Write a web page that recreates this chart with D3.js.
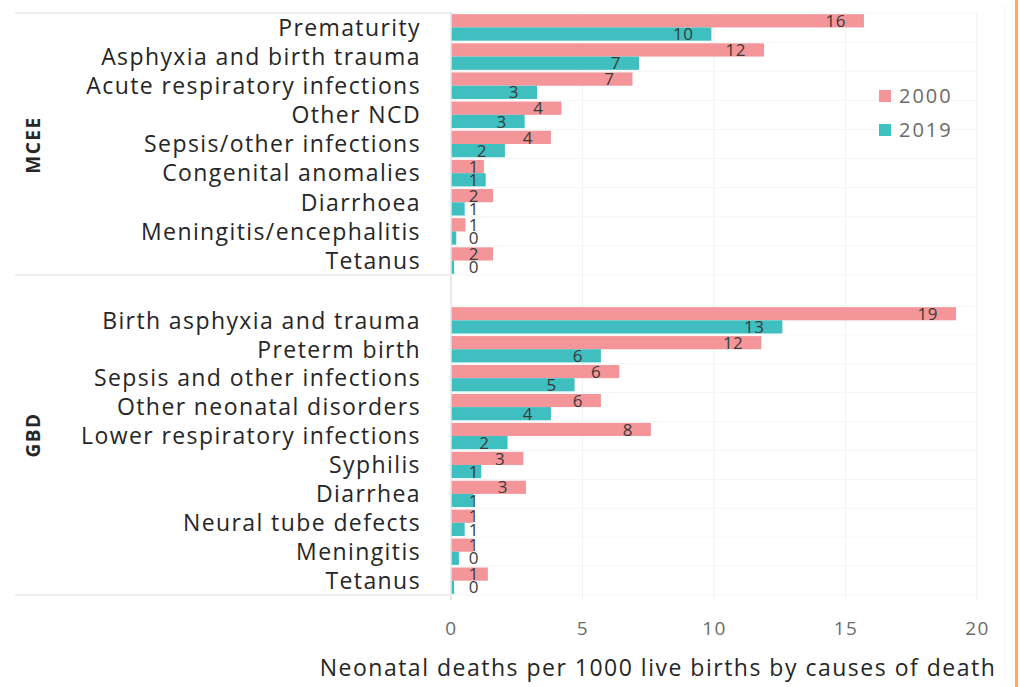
<!DOCTYPE html>
<html>
<head>
<meta charset="utf-8">
<script src="https://cdn.jsdelivr.net/npm/d3@7"></script>
<style>
  body { margin: 0; background: #fff; }
  svg { display: block; font-family: "Open Sans", sans-serif; }
</style>
</head>
<body>
<svg width="1020" height="687"></svg>
<script>
// data
var years = ["2000", "2019"];

var mceeCauses = ["Prematurity", "Asphyxia and birth trauma", "Acute respiratory infections", "Other NCD",
    "Sepsis/other infections", "Congenital anomalies", "Diarrhoea", "Meningitis/encephalitis", "Tetanus"];
var mcee2000 = [15.7, 11.9, 6.9, 4.2, 3.8, 1.25, 1.6, 0.55, 1.6];
var mcee2019 = [9.9, 7.15, 3.27, 2.8, 2.05, 1.32, 0.52, 0.2, 0.12];

var gbdCauses = ["Birth asphyxia and trauma", "Preterm birth", "Sepsis and other infections",
    "Other neonatal disorders", "Lower respiratory infections", "Syphilis", "Diarrhea",
    "Neural tube defects", "Meningitis", "Tetanus"];
var gbd2000 = [19.2, 11.8, 6.4, 5.7, 7.6, 2.75, 2.85, 0.85, 0.85, 1.4];
var gbd2019 = [12.6, 5.7, 4.7, 3.8, 2.15, 1.15, 0.85, 0.52, 0.3, 0.12];

var xTicks = [0, 5, 10, 15, 20];
var axisTitle = "Neonatal deaths per 1000 live births by causes of death";

var svg = d3.select("svg");

var x = d3.scaleLinear().domain([0, 20]).range([451, 977]);
var z = d3.scaleOrdinal().domain(years).range(["#f39599", "#3fbfbf"]);
var fmt = d3.format(".0f");

var panels = [
    { name: "MCEE", causes: mceeCauses, v2000: mcee2000, v2019: mcee2019, top: 13, bottom: 275, labelY: 145 },
    { name: "GBD", causes: gbdCauses, v2000: gbd2000, v2019: gbd2019, top: 306, bottom: 595, labelY: 435 }
];

// vertical gridlines
svg.append("g")
    .selectAll("line")
    .data(xTicks.slice(1))
    .enter().append("line")
    .attr("x1", function(d) { return x(d); })
    .attr("x2", function(d) { return x(d); })
    .attr("y1", 12)
    .attr("y2", 600)
    .attr("stroke", "#f1f3f3")
    .attr("stroke-width", 1.2);

// faint outer border on the right
svg.append("line")
    .attr("x1", 1005).attr("x2", 1005)
    .attr("y1", 5).attr("y2", 682)
    .attr("stroke", "#f4f4f4");

panels.forEach(function(p) {
    var rows = p.causes.map(function(c, i) {
        return { cause: c, values: [{ year: "2000", value: p.v2000[i] }, { year: "2019", value: p.v2019[i] }] };
    });

    var y = d3.scaleBand()
        .domain(p.causes)
        .range([p.top, p.bottom])
        .paddingInner(0.09)
        .paddingOuter(0.04);

    var y1 = d3.scaleBand().domain(years).range([0, y.bandwidth()]);

    var g = svg.append("g").attr("class", "panel");

    // horizontal gridlines between categories
    g.selectAll(".hgrid")
        .data(d3.range(p.causes.length + 1))
        .enter().append("line")
        .attr("class", "hgrid")
        .attr("x1", x(0))
        .attr("x2", x(20))
        .attr("y1", function(i) { return p.top + i * (p.bottom - p.top) / p.causes.length; })
        .attr("y2", function(i) { return p.top + i * (p.bottom - p.top) / p.causes.length; })
        .attr("stroke", "#f3f5f5");

    // panel frame lines on the label side
    g.selectAll(".frame")
        .data(p.name === "MCEE" ? [p.top, p.bottom] : [p.bottom])
        .enter().append("line")
        .attr("class", "frame")
        .attr("x1", 15)
        .attr("x2", x(0))
        .attr("y1", function(d) { return d; })
        .attr("y2", function(d) { return d; })
        .attr("stroke", "#e6e8e8")
        .attr("stroke-width", 1.5);

    var row = g.selectAll(".row")
        .data(rows)
        .enter().append("g")
        .attr("class", "row")
        .attr("transform", function(d) { return "translate(0," + y(d.cause) + ")"; });

    row.selectAll("rect")
        .data(function(d) { return d.values; })
        .enter().append("rect")
        .attr("x", x(0))
        .attr("y", function(d) { return y1(d.year); })
        .attr("width", function(d) { return x(d.value) - x(0); })
        .attr("height", y1.bandwidth())
        .attr("fill", function(d) { return z(d.year); });

    row.selectAll(".val")
        .data(function(d) { return d.values; })
        .enter().append("text")
        .attr("class", "val")
        .attr("x", function(d) { return Math.max(x(d.value) - 18, 479); })
        .attr("y", function(d) { return y1(d.year) + y1.bandwidth() / 2; })
        .attr("dy", "0.36em")
        .attr("text-anchor", "end")
        .attr("font-size", 17)
        .attr("letter-spacing", 0.5)
        .attr("fill", "#3a3a3a")
        .text(function(d) { return fmt(d.value); });

    // category labels
    g.selectAll(".cat")
        .data(p.causes)
        .enter().append("text")
        .attr("class", "cat")
        .attr("x", 421)
        .attr("y", function(d) { return y(d) + y.bandwidth() / 2; })
        .attr("dy", "0.36em")
        .attr("text-anchor", "end")
        .attr("font-size", 23)
        .attr("letter-spacing", 1.4)
        .attr("fill", "#262626")
        .text(function(d) { return d; });

    // group label
    g.append("text")
        .attr("transform", "translate(33," + p.labelY + ") rotate(-90)")
        .attr("text-anchor", "middle")
        .attr("dy", "0.36em")
        .attr("font-size", 19)
        .attr("font-weight", "bold")
        .attr("letter-spacing", 1.5)
        .attr("fill", "#262626")
        .text(p.name);
});

// y axis line
svg.append("line")
    .attr("x1", x(0)).attr("x2", x(0))
    .attr("y1", 12).attr("y2", 600)
    .attr("stroke", "#e3e6e6")
    .attr("stroke-width", 1.5);

// x axis ticks
svg.append("g")
    .attr("transform", "translate(0,628)")
    .call(d3.axisBottom(x).tickValues(xTicks).tickSize(0).tickPadding(0))
    .call(function(g) { g.select(".domain").remove(); })
    .selectAll("text")
    .attr("dy", "0.36em")
    .attr("font-family", "'Open Sans', sans-serif")
    .attr("font-size", 19)
    .attr("letter-spacing", 1.5)
    .attr("fill", "#6b6b6b");

svg.append("text")
    .attr("x", 658)
    .attr("y", 668)
    .attr("dy", "0.36em")
    .attr("text-anchor", "middle")
    .attr("font-size", 23)
    .attr("letter-spacing", 1.5)
    .attr("fill", "#262626")
    .text(axisTitle);

// legend
var legend = svg.append("g")
    .selectAll("g")
    .data(years)
    .enter().append("g")
    .attr("transform", function(d, i) { return "translate(879," + (96 + i * 34) + ")"; });

legend.append("rect")
    .attr("x", 0)
    .attr("y", -6)
    .attr("width", 12)
    .attr("height", 12)
    .attr("fill", function(d) { return z(d); });

legend.append("text")
    .attr("x", 20)
    .attr("dy", "0.36em")
    .attr("font-size", 20)
    .attr("letter-spacing", 2)
    .attr("fill", "#6b6b6b")
    .text(function(d) { return d; });

// orange border at the right edge
svg.append("line")
    .attr("x1", 1016.5).attr("x2", 1016.5)
    .attr("y1", 0).attr("y2", 687)
    .attr("stroke", "#f6a96f")
    .attr("stroke-width", 3);
</script>
</body>
</html>
